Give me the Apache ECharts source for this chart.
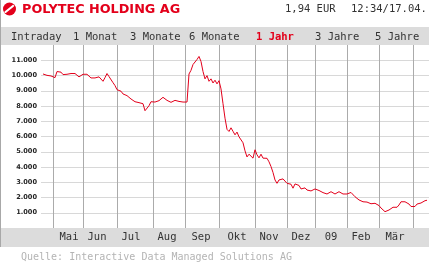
<!DOCTYPE html>
<html><head><meta charset="utf-8">
<script src="https://cdn.jsdelivr.net/npm/echarts@6/dist/echarts.min.js"></script>
<style>html,body{margin:0;padding:0;background:#fff;overflow:hidden}#c{width:429px;height:262px}</style>
</head><body><div id="c"></div>
<script>
// Daily closing values, Apr 2008 - Apr 2009
const prices = [
10100,10010,10010,9970,9970,10080,9860,10260,10280,10220,
10060,10010,10080,10080,10130,10090,10130,10060,9910,10010,
10080,10080,10080,9950,9840,9950,9840,9910,9910,10010,
9620,9860,10130,9930,9990,9530,9340,9070,8940,8970,
8790,8790,8680,8550,8460,8590,8280,8150,8220,
8260,8150,7690,7690,8020,8280,8200,8260,8260,8350,
8350,8570,8460,8370,8320,8240,8300,8370,8370,8300,
8300,8260,8260,8260,10100,10340,10720,10830,11050,11250,
10920,10260,9780,9990,9620,9780,9510,9690,9450,9660,
9120,8150,7200,6470,6330,6570,6340,6110,6290,5980,
6110,5590,5060,4660,4840,4910,4580,5130,4800,4600,
4840,4580,4470,4570,4340,4030,3640,3150,2930,3150,
3260,3220,3150,2930,2820,2870,2610,2890,2930,2790,
2560,2690,2630,2490,2490,2430,2340,2560,2590,2460,
2360,2320,2280,2230,2300,2380,2330,2230,2330,2380,
2300,2230,2260,2230,2330,2330,2230,2050,1950,1840,
1840,1720,1660,1700,1670,1590,1620,1620,1510,1470,
1310,1180,1070,1140,1180,1210,1360,1360,1360,1510,
1720,1720,1720,1700,1570,1410,1360,1410,1570,1700,
1640,1700,1790,1820
];
const monthLabels = ['Mai','Jun','Jul','Aug','Sep','Okt','Nov','Dez','09','Feb','Mär'];
const monthLabelIdx = [14,28,45,63,80,98,114,130,145,160,177];
const monthStartIdx = [6,21,38,56,72,89,107,123,137,153,169,186];
const yMin = 0, yMax = 12000, yStep = 1000;
const tabs = ['Intraday','1 Monat','3 Monate','6 Monate','1 Jahr','3 Jahre','5 Jahre'];
const activeTab = '1 Jahr';
const title = 'POLYTEC HOLDING AG';
const quote = '1,94 EUR';
const stamp = '12:34/17.04.';
const source = 'Quelle: Interactive Data Managed Solutions AG';

const RED = '#e3001b';
const BAND = '#dcdcdc';
const MONO = '"DejaVu Sans Mono", monospace';

// category axis: one padding slot on each side
const categories = new Array(prices.length + 2).fill('');
monthLabelIdx.forEach((ix, i) => { categories[ix] = monthLabels[i]; });
const seriesData = [null].concat(prices, [null]);

const tabX = [11, 73, 130, 189, 256, 315, 375];
const graphics = [
  { type: 'rect', z: -10, shape: { x: 0, y: 27, width: 429, height: 18 }, style: { fill: BAND } },
  { type: 'rect', z: -10, shape: { x: 0, y: 228, width: 429, height: 19 }, style: { fill: BAND } },
  { type: 'line', z: 10, shape: { x1: 0.5, y1: 0, x2: 0.5, y2: 247 }, style: { stroke: '#a8a8a8', lineWidth: 1 } },
  { type: 'circle', shape: { cx: 9.5, cy: 9, r: 6.5 }, style: { fill: RED } },
  { type: 'line', shape: { x1: 5.5, y1: 12, x2: 13, y2: 6 }, style: { stroke: '#fff', lineWidth: 2.2, lineCap: 'round' } },
  { type: 'text', style: { text: title, x: 22, y: 9.5, fill: RED, font: 'bold 12.8px "DejaVu Sans"', textVerticalAlign: 'middle' } },
  { type: 'text', style: { text: quote, x: 285, y: 9, fill: '#333', font: '10.5px ' + MONO, textVerticalAlign: 'middle' } },
  { type: 'text', style: { text: stamp, x: 351, y: 9, fill: '#333', font: '10.5px ' + MONO, textVerticalAlign: 'middle' } },
  { type: 'text', style: { text: source, x: 21, y: 257, fill: '#b4b4b4', font: '10px ' + MONO, textVerticalAlign: 'middle' } }
];
tabs.forEach((t, i) => {
  const act = t === activeTab;
  graphics.push({ type: 'text', style: { text: t, x: tabX[i], y: 37.5, fill: act ? RED : '#333',
    font: (act ? 'bold ' : '') + '10.5px ' + MONO, textVerticalAlign: 'middle' } });
});

const gridColors = ['rgba(0,0,0,0)'];
for (let v = yMin + yStep; v < yMax; v += yStep) gridColors.push('#d8d8d8');

const chart = echarts.init(document.getElementById('c'), null, { renderer: 'canvas' });
chart.setOption({
  animation: false,
  backgroundColor: '#fff',
  grid: { left: 41, right: 0, top: 45, bottom: 34, containLabel: false },
  graphic: graphics,
  xAxis: {
    type: 'category', data: categories, boundaryGap: false,
    axisLine: { show: false }, axisTick: { show: false },
    axisLabel: { interval: (i) => monthLabelIdx.includes(i), margin: 4, color: '#333',
      fontFamily: 'DejaVu Sans Mono', fontSize: 10.5 },
    splitLine: { show: true, interval: (i) => monthStartIdx.includes(i),
      lineStyle: { color: '#ababab', width: 1 } }
  },
  yAxis: {
    type: 'value', min: yMin, max: yMax, interval: yStep,
    axisLine: { show: false }, axisTick: { show: false },
    axisLabel: { margin: 4, color: '#222', fontFamily: 'DejaVu Sans', fontSize: 6.6, fontWeight: 'bold',
      formatter: (v) => (v <= yMin || v >= yMax) ? '' : (v / 1000) + '.000' },
    splitLine: { show: true, lineStyle: { color: gridColors, width: 1 } }
  },
  series: [{
    type: 'line', data: seriesData, symbol: 'none', connectNulls: false,
    lineStyle: { color: RED, width: 1 }, z: 5
  }]
});
</script>
</body></html>
